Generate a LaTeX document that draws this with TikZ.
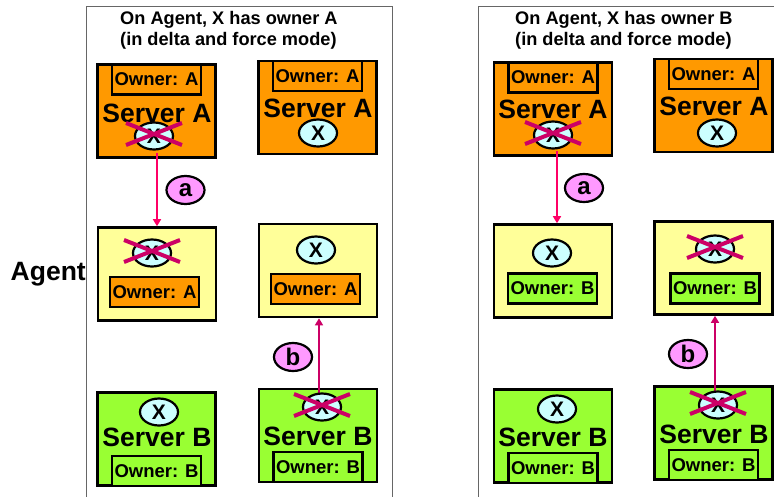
\documentclass[tikz,border=0pt]{standalone}
\usepackage{fontspec}
\setmainfont{Liberation Sans}
\usetikzlibrary{shapes.geometric,arrows.meta}
\definecolor{corange}{HTML}{FF9900}
\definecolor{cyellow}{HTML}{FFFF99}
\definecolor{cgreen}{HTML}{99FF33}
\definecolor{ccyan}{HTML}{CCFFFF}
\definecolor{cpink}{HTML}{FF99FF}
\definecolor{carra}{HTML}{FF0066}
\definecolor{carrb}{HTML}{CC0066}
\definecolor{ccross}{HTML}{CC0066}
\newcommand\fsBig{\fontsize{26.5}{28}\selectfont\bfseries}
\newcommand\fsOwn{\fontsize{18.5}{20}\selectfont\bfseries}
\newcommand\fsTitle{\fontsize{18.2}{21}\selectfont\bfseries}
\newcommand\fsX{\fontsize{21}{22}\selectfont\bfseries}
\newcommand\fsLbl{\fontsize{24}{24}\selectfont\bfseries}
\newcommand\crossat[1]{\draw[crossline] ([shift={(-28,-13)}]#1.center) -- ([shift={(28,9)}]#1.center) ([shift={(-28,9)}]#1.center) -- ([shift={(28,-13)}]#1.center);}
\tikzset{
  frame/.style={draw=gray!80!black, line width=1pt},
  srv/.style={rectangle, draw, line width=2.6pt, minimum width=118pt, minimum height=93pt, inner sep=0pt},
  own/.style={rectangle, draw, line width=2.3pt, minimum width=89pt, minimum height=30pt, inner sep=0pt, font=\fsOwn},
  xell/.style={ellipse, draw, line width=2.2pt, fill=ccyan, minimum width=38pt, minimum height=27pt, inner sep=0pt, font=\fsX},
  bigtxt/.style={inner sep=0pt, font=\fsBig},
  lbl/.style={ellipse, draw, line width=2.2pt, fill=cpink, minimum width=38pt, minimum height=28pt, inner sep=0pt, font=\fsLbl},
  arra/.style={draw=carra, line width=1.6pt, -{Triangle[width=8pt,length=7pt]}},
  arrb/.style={draw=carrb, line width=1.6pt, -{Triangle[width=8pt,length=7pt]}},
  crossline/.style={draw=ccross, line width=4pt},
  ttl/.style={anchor=west, align=left, inner sep=0pt, font=\fsTitle},
}
\begin{document}
\begin{tikzpicture}[x=1pt,y=-1pt]
\useasboundingbox (0,0) rectangle (774,496);
\fill[white] (0,0) rectangle (774,496);
% frames
\draw[frame] (86,497) -- (86,6) -- (392,6) -- (392,497);
\draw[frame] (478,497) -- (478,6) -- (775,6);
% titles
\node[ttl] (t1) at (120,30) {On Agent, X has owner A\\(in delta and force mode)};
\node[ttl] (t2) at (515,30) {On Agent, X has owner B\\(in delta and force mode)};
\node[anchor=east, inner sep=0pt, font=\fsBig] (agent) at (86,274) {Agent};

% ---------- panel 1 ----------
\node[srv, fill=corange] (sa1) at (156.5,111) {};
\node[own, fill=corange, anchor=north] (oa1) at (sa1.north) {Owner: A};
\node[bigtxt] (ta1) at (157,113) {Server A};
\node[srv, fill=corange] (sa2) at (317.5,107.5) {};
\node[own, fill=corange, anchor=north] (oa2) at (sa2.north) {Owner: A};
\node[bigtxt] (ta2) at (318,108.5) {Server A};
\node[xell] (xa2) at (318,133) {X};

\node[srv, fill=cyellow] (y1) at (157,274) {};
\node[own, fill=corange] (oy1) at (154.5,292) {Owner: A};
\node[srv, fill=cyellow] (y2) at (318,270.5) {};
\node[xell] (xy2) at (316,250) {X};
\node[own, fill=corange] (oy2) at (315.5,289) {Owner: A};

\node[srv, fill=cgreen] (sb1) at (156.5,439) {};
\node[xell] (xb1) at (159,412) {X};
\node[bigtxt] (tb1) at (157,437) {Server B};
\node[own, fill=cgreen, anchor=south] (ob1) at (sb1.south) {Owner: B};
\node[srv, fill=cgreen] (sb2) at (318,435.5) {};
\node[bigtxt] (tb2) at (318,436) {Server B};
\node[own, fill=cgreen, anchor=south] (ob2) at (sb2.south) {Owner: B};

\draw[arra] (sa1.south -| 157,0) ++(0,-6) coordinate (a1s) -- (a1s |- y1.north);
\node[xell] (xa1) at (154,136) {X};
\crossat{xa1}
\node[xell] (xy1) at (152,253) {X};
\crossat{xy1}
\draw[arrb] (sb2.north -| 319,0) ++(0,6) coordinate (b1s) -- (b1s |- y2.south);
\node[xell] (xb2) at (322,407) {X};
\crossat{xb2}
\node[lbl] (la1) at (185.5,190) {a};
\node[lbl] (lb1) at (293,357) {b};

% ---------- panel 2 ----------
\node[srv, fill=corange] (sa3) at (553,109) {};
\node[own, fill=corange, anchor=north] (oa3) at (sa3.north) {Owner: A};
\node[bigtxt] (ta3) at (553,109) {Server A};
\node[srv, fill=corange] (sa4) at (713.5,105.5) {};
\node[own, fill=corange, anchor=north] (oa4) at (sa4.north) {Owner: A};
\node[bigtxt] (ta4) at (714,106) {Server A};
\node[xell] (xa4) at (717,133) {X};

\node[srv, fill=cyellow] (y3) at (553,271) {};
\node[xell] (xy3) at (552,253) {X};
\node[own, fill=cgreen] (oy3) at (552.5,288.5) {Owner: B};
\node[srv, fill=cyellow] (y4) at (713.5,268) {};
\node[own, fill=cgreen] (oy4) at (715,288.5) {Owner: B};

\node[srv, fill=cgreen] (sb3) at (553,436) {};
\node[xell] (xb3) at (557,409) {X};
\node[bigtxt] (tb3) at (553,437) {Server B};
\node[own, fill=cgreen, anchor=south] (ob3) at (sb3.south) {Owner: B};
\node[srv, fill=cgreen] (sb4) at (713.5,433) {};
\node[bigtxt] (tb4) at (714,434) {Server B};
\node[own, fill=cgreen, anchor=south] (ob4) at (sb4.south) {Owner: B};

\draw[arra] (sa3.south -| 557,0) ++(0,-6) coordinate (a2s) -- (a2s |- y3.north);
\node[xell] (xa3) at (553,135) {X};
\crossat{xa3}
\node[xell] (xy4) at (715,249) {X};
\crossat{xy4}
\draw[arrb] (sb4.north -| 715,0) ++(0,6) coordinate (b2s) -- (b2s |- y4.south);
\node[xell] (xb4) at (718,405) {X};
\crossat{xb4}
\node[lbl] (la2) at (584,188) {a};
\node[lbl] (lb2) at (688,354) {b};
\end{tikzpicture}
\end{document}
